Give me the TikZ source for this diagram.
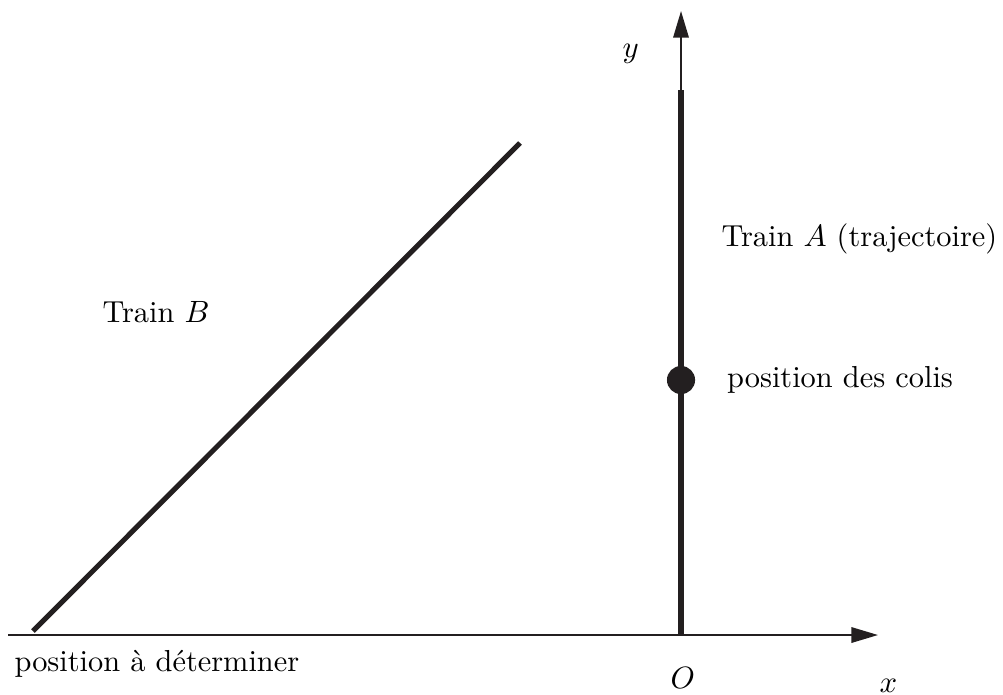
\documentclass[tikz,border=0pt]{standalone}
\usepackage{amsmath}
\usepackage{tikz}
\usetikzlibrary{arrows.meta, positioning, calc}
\definecolor{ink}{HTML}{231F20}
\tikzset{
    axis/.style={draw=ink, line width=0.7pt, -{Triangle[length=9.5pt, width=5.5pt]}},
    track/.style={draw=ink, line width=1.8pt},
    label/.style={anchor=base west, inner sep=0pt, font=\fontsize{10.8}{13}\selectfont},
    parcel/.style={circle, fill=ink, inner sep=0pt, minimum size=10pt}
}
\begin{document}
\begin{tikzpicture}[x=0.0125cm, y=-0.0125cm]
        \useasboundingbox (0,0) rectangle (1003,694);
        % axes
        \coordinate (O) at (681,635);
        \coordinate (xstart) at (8,635);
        \coordinate (xend) at (878,635);
        \coordinate (yend) at (681,11);
        \coordinate (Atop) at (681,90);
        \coordinate (Bstart) at (33,631);
        \coordinate (Bend) at (520,143);

        \draw [axis] (xstart) -- (xend);
        \draw [axis] (O) -- (yend);

        % trains
        \draw [track, line cap=butt] (O) -- (Atop);
        \draw [track] (Bstart) -- (Bend);
        \node (colis) [parcel] at (681,380) {};

        % labels
        \node (ylab) [label] at (622,57) {$y$};
        \node (xlab) [label] at (879,692) {$x$};
        \node (Olab) [label] at (670,688) {$O$};
        \node (trainA) [label] at (721,246) {Train $A$ (trajectoire)};
        \node (posc) [label, right=11pt of colis, anchor=west] {position des colis};
        \node (trainB) [label] at (102,322) {Train $B$};
        \node (posB) [label] at (14,671) {position \`a d\'eterminer};
    \end{tikzpicture}
\end{document}
